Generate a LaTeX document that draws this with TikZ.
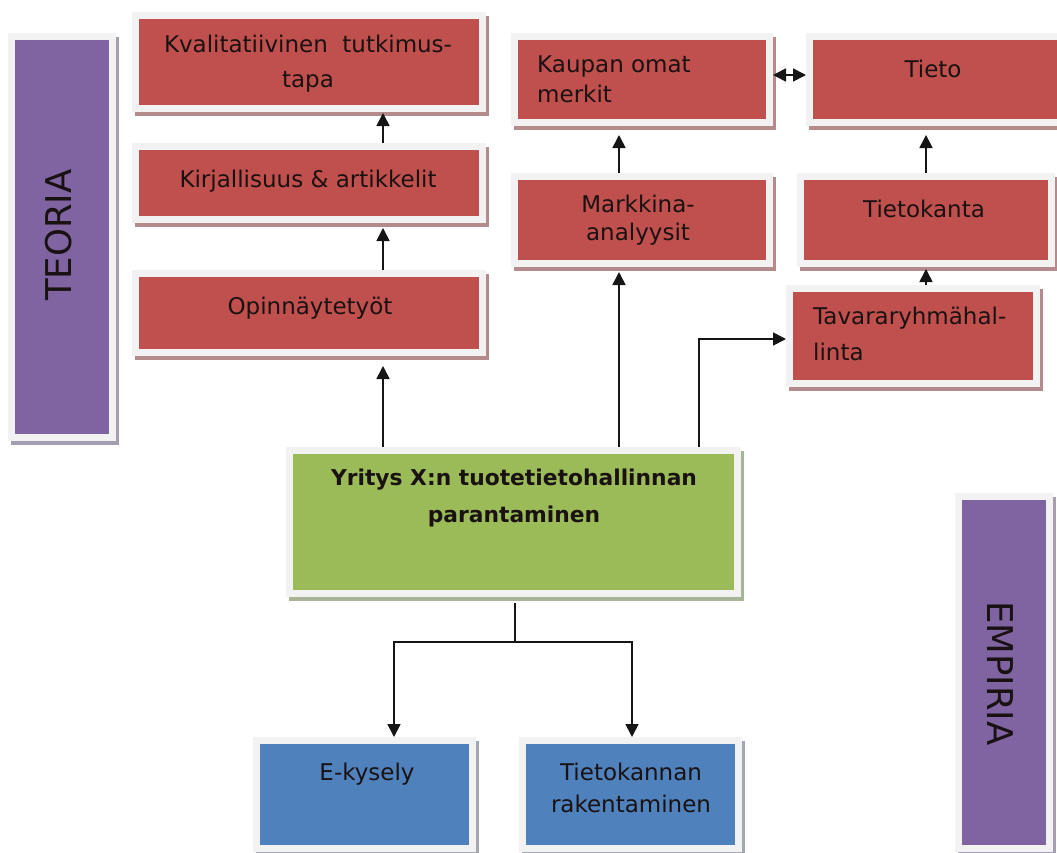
\documentclass[tikz,border=0pt]{standalone}
\usepackage{fontspec}
\setmainfont{DejaVu Sans}
\newfontfamily\sidefont{DejaVu Sans}
\usetikzlibrary{arrows.meta,calc}

\definecolor{redfill}{HTML}{C0504D}
\definecolor{purplefill}{HTML}{8064A2}
\definecolor{greenfill}{HTML}{9BBB59}
\definecolor{bluefill}{HTML}{4F81BD}
\definecolor{framegray}{HTML}{F2F2F2}
\definecolor{redshade}{HTML}{B58A8A}
\definecolor{purpleshade}{HTML}{A59DB0}
\definecolor{greenshade}{HTML}{A8B496}
\definecolor{blueshade}{HTML}{A3A9B3}
\definecolor{ink}{HTML}{1A1212}
\definecolor{linecol}{HTML}{151515}

% framed box with a drop shadow: name, x1, y1, x2, y2 (outer frame), fill, shadow
\newcommand\panel[7]{%
  \fill[#7] ({#2+3},{#3+4}) rectangle ({#4+3},{#5+4});
  \node[draw=framegray, line width=7pt, fill=#6, outer sep=3.5pt, inner sep=0pt,
        minimum width={#4-#2-7}, minimum height={#5-#3-7}]
        (#1) at ({(#2+#4)/2},{(#3+#5)/2}) {};
}
\newcommand\ctext[1]{\begin{tabular}[t]{@{}c@{}}#1\end{tabular}}
\newcommand\ltext[1]{\begin{tabular}[t]{@{}l@{}}#1\end{tabular}}

\tikzset{
  txt/.style={anchor=base, inner sep=0pt, text=ink, font=\fontsize{23}{#1}\selectfont},
  txt/.default=33,
  ltxt/.style={txt=#1, anchor=base west},
  ltxt/.default=33,
  side/.style={inner sep=0pt, text=ink, font=\sidefont\fontsize{35.5}{40}\selectfont},
  conn/.style={draw=linecol, line width=1.7pt},
  arr/.style={conn, -{Triangle[length=13pt,width=13pt]}},
  arrboth/.style={conn, {Triangle[length=13pt,width=13pt]}-{Triangle[length=13pt,width=13pt]}},
}

\begin{document}
\begin{tikzpicture}[x=1pt, y=-1pt]
\useasboundingbox (0,0) rectangle (1057,852);
\clip (0,0) rectangle (1057,852);

% side labels
\panel{teoria}{8}{33}{116}{441}{purplefill}{purpleshade}
\panel{empiria}{955}{493}{1053}{852}{purplefill}{purpleshade}

% theory column
\panel{kval}{132}{12}{486}{112}{redfill}{redshade}
\panel{kirj}{132}{143}{486}{223}{redfill}{redshade}
\panel{opin}{132}{270}{486}{356}{redfill}{redshade}

% market and data columns
\panel{kaup}{511}{33}{773}{126}{redfill}{redshade}
\panel{tieto}{806}{33}{1075}{126}{redfill}{redshade}
\panel{mark}{511}{173}{773}{267}{redfill}{redshade}
\panel{tkanta}{797}{173}{1055}{267}{redfill}{redshade}
\panel{tava}{786}{285}{1040}{387}{redfill}{redshade}

% central goal
\panel{goal}{286}{447}{741}{597}{greenfill}{greenshade}

% empirical work
\panel{ekys}{253}{737}{476}{852}{bluefill}{blueshade}
\panel{tkr}{519}{737}{742}{852}{bluefill}{blueshade}

% texts
\node[side, rotate=90] (teoria-t) at (59,235) {TEORIA};
\node[side, rotate=-90] (empiria-t) at (1000,673.5) {EMPIRIA};

\node[txt=35] (kval-t) at (308,52) {\ctext{Kvalitatiivinen\ \ tutkimus-\\tapa}};
\node[txt] (kirj-t) at (308,187) {Kirjallisuus \& artikkelit};
\node[txt] (opin-t) at (310,314) {Opinnäytetyöt};

\node[ltxt=30] (kaup-t) at (537,72) {\ltext{Kaupan omat\\merkit}};
\node[txt] (tieto-t) at (933,77) {Tieto};
\node[txt=28] (mark-t) at (638,212) {\ctext{Markkina-\\analyysit}};
\node[txt] (tkanta-t) at (924,217) {Tietokanta};
\node[ltxt=36] (tava-t) at (813,324) {\ltext{Tavararyhmähal-\\linta}};

\node[txt, font=\fontsize{21.8}{37}\selectfont\bfseries] (goal-t) at (514,485)
  {\ctext{Yritys X:n tuotetietohallinnan\\parantaminen}};

\node[txt] (ekys-t) at (367,780) {E-kysely};
\node[txt=32] (tkr-t) at (631,780) {\ctext{Tietokannan\\rakentaminen}};

% connectors of the theory column
\draw[arr] ($(goal.north)+(-130.5,0)$) -- ($(opin.south)+(74,10)$);
\draw[arr] ($(opin.north)+(74,0)$) -- ($(kirj.south)+(74,5)$);
\draw[arr] ($(kirj.north)+(74,0)$) -- ($(kval.south)+(74,1)$);

% connectors of the market and data columns
\draw[arr] ($(goal.north)+(105.5,0)$) -- ($(mark.south)+(-23,5)$);
\draw[arr] ($(mark.north)+(-23,0)$) -- ($(kaup.south)+(-23,9)$);
\draw[arr] (tkanta.north) -- ($(tkanta.north |- tieto.south)+(0,9)$);
\draw[arr] ($(tava.north)+(13,0)$) -- ($(tkanta.south)+(0,2)$);
\draw[arrboth] ($(kaup.east)+(0,-4.5)$) -- ($(tieto.west)+(0,-4.5)$);
\draw[arr] ($(goal.north)+(185.5,0)$) |- ($(tava.west)+(0,3)$);

% split towards the empirical work
\coordinate (fork) at ($(goal.south)+(1.5,45)$);
\draw[conn] ($(goal.south)+(1.5,6)$) -- (fork);
\draw[arr] (fork) -| ($(ekys.north)+(29.5,0)$);
\draw[arr] (fork) -| ($(tkr.north)+(1.5,0)$);
\end{tikzpicture}
\end{document}
